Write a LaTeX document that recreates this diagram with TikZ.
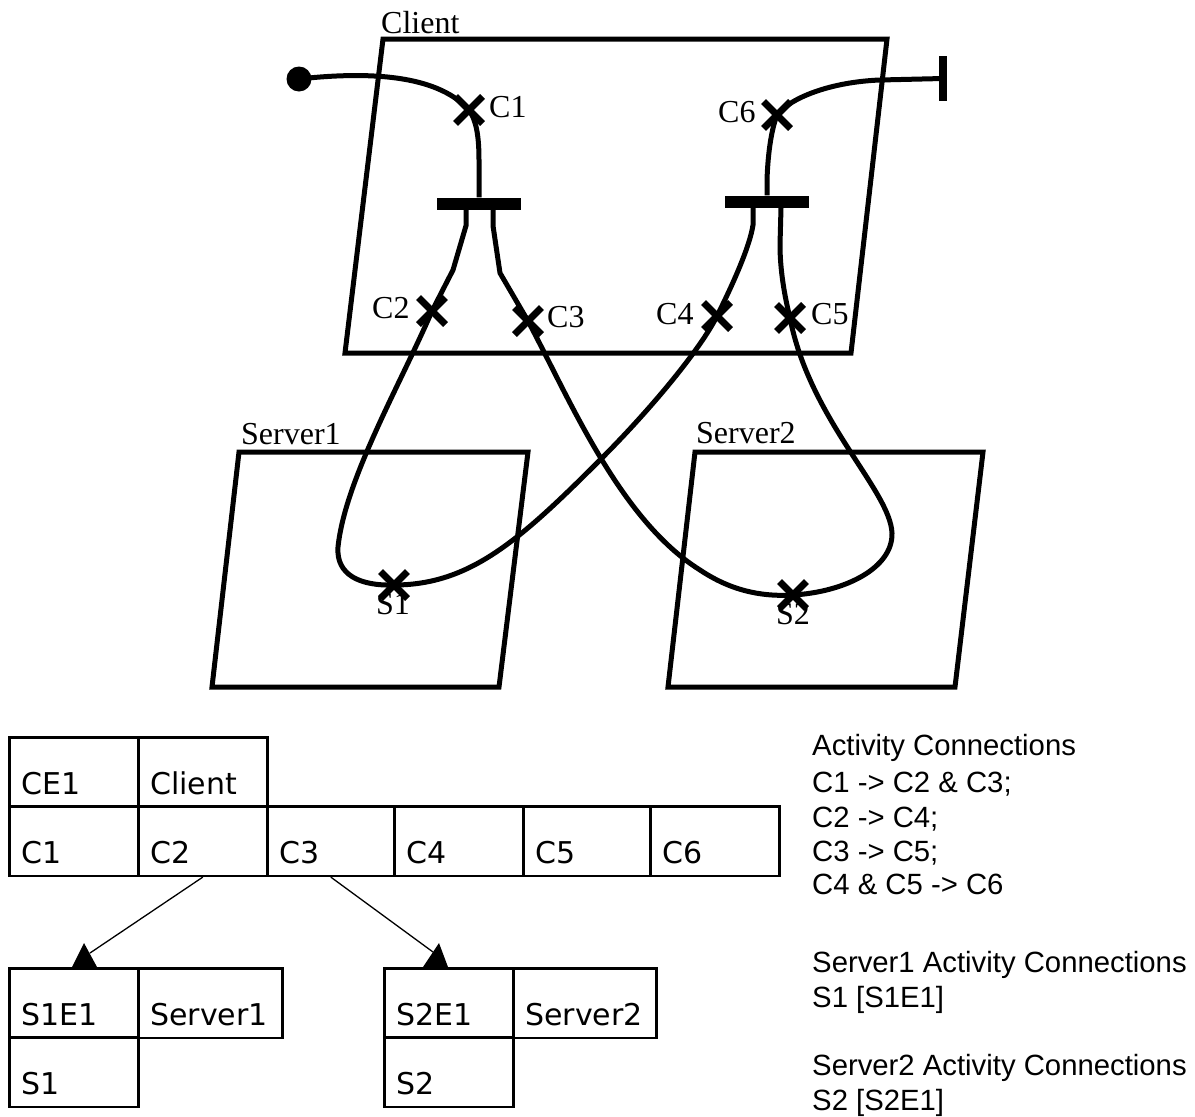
\documentclass[tikz,border=0pt]{standalone}
\usepackage{fontspec}
\setmainfont{Liberation Serif}
\newfontfamily\arialf{Liberation Sans}
\newfontfamily\pixf{DejaVu Sans}
\usetikzlibrary{shapes.misc}
\begin{document}
\begin{tikzpicture}[x=1pt,y=-1pt,
  boxline/.style={line width=5pt, line join=miter},
  wire/.style={line width=5pt},
  xmark/.style={cross out, draw, line width=7pt, minimum size=20pt, inner sep=0pt},
  lbl/.style={font=\fontsize{32}{38}\selectfont, inner sep=0pt, anchor=base west},
  barnode/.style={fill, minimum width=84pt, minimum height=12pt, inner sep=0pt},
  cell/.style={draw, line width=2.6pt, minimum height=69.5pt, inner sep=0pt, anchor=north west},
  tabtxt/.style={font=\pixf\fontsize{30}{35}\selectfont, inner sep=0pt, anchor=base west},
  note/.style={font=\arialf\fontsize{29.3}{35}\selectfont, inner sep=0pt, anchor=base west},
  relline/.style={line width=1.3pt},
]
\useasboundingbox (0,0) rectangle (1195,1117);
\fill[white] (0,0) rectangle (1195,1117);

% ---- component boxes
\draw[boxline] (383,39) -- (887,39) -- (851,353) -- (345,353) -- cycle;
\draw[boxline] (239,452) -- (528,452) -- (499,687) -- (212,687) -- cycle;
\draw[boxline] (695,452) -- (983,452) -- (955,687) -- (668,687) -- cycle;

% ---- box labels
\node[lbl] (lclient) at (381,33) {Client};
\node[lbl] (lserver1) at (241,444) {Server1};
\node[lbl] (lserver2) at (696,443) {Server2};

% ---- responsibility points
\coordinate (c1) at (469,110);
\coordinate (c2) at (432,311);
\coordinate (c3) at (528,321);
\coordinate (c4) at (717,316);
\coordinate (c5) at (790,318);
\coordinate (c6) at (777,115);
\coordinate (s1) at (394,585);
\coordinate (s2) at (793,595);

% ---- start, end, forks/joins
\node[circle, fill, minimum size=25pt, inner sep=0pt] (start) at (299,79) {};
\node[fill, minimum width=8pt, minimum height=45pt, inner sep=0pt] (stop) at (943,78.5) {};
\node[barnode] (bar1) at (479,203.5) {};
\node[barnode] (bar2) at (767,201.5) {};

% ---- paths
\draw[wire] (start.center) .. controls (380,70) and (440,78) .. (c1)
  .. controls (476,120) and (479,135) .. (479,160) -- (bar1.north);
\draw[wire] ([xshift=-13pt]bar1.south) -- ++(0,16) -- (453,270) -- (c2)
  .. controls (400,385) and (345,480) .. (338,547)
  .. controls (336,575) and (360,586) .. (s1)
  .. controls (470,585) and (520,540) .. (600,460)
  .. controls (650,410) and (700,350) .. (c4)
  .. controls (735,280) and (750,245) .. (753,225) -- ([xshift=-14pt]bar2.south);
\draw[wire] ([xshift=14pt]bar1.south) -- ++(0,16) -- (500,273) -- (c3)
  .. controls (570,400) and (620,520) .. (700,570)
  .. controls (730,590) and (760,597) .. (s2)
  .. controls (845,592) and (893,568) .. (892,533)
  .. controls (890,490) and (810,420) .. (c5)
  .. controls (783,290) and (780,265) .. (780,245) -- ([xshift=14pt]bar2.south);
\draw[wire] (bar2.north) -- (767,180) .. controls (768,150) and (772,128) .. (c6)
  .. controls (790,98) and (830,82) .. (880,80) -- (stop.center);

% ---- cross marks
\foreach \p in {c1,c2,c3,c4,c5,c6,s1,s2}
  \node[xmark] (\p x) at (\p) {};

% ---- point labels
\node[lbl] (lc1) at (489,117) {C1};
\node[lbl] (lc6) at (718,122) {C6};
\node[lbl] (lc2) at (372,318) {C2};
\node[lbl] (lc3) at (547,327) {C3};
\node[lbl] (lc4) at (656,324) {C4};
\node[lbl] (lc5) at (811,324) {C5};
\node[lbl] (ls1) at (376,614) {S1};
\node[lbl] (ls2) at (776,624) {S2};

% ---- table: client
\node[cell, minimum width=129pt] (tce1) at (8,736) {};
\node[cell, minimum width=129pt] (tclient) at (137,736) {};
\node[cell, minimum width=129pt] (tc1) at (8,805) {};
\node[cell, minimum width=129pt] (tc2) at (137,805) {};
\node[cell, minimum width=127pt] (tc3) at (266,805) {};
\node[cell, minimum width=129pt] (tc4) at (393,805) {};
\node[cell, minimum width=127pt] (tc5) at (522,805) {};
\node[cell, minimum width=129pt] (tc6) at (649,805) {};
% ---- table: servers
\node[cell, minimum width=129pt] (ts1e1) at (8,967) {};
\node[cell, minimum width=144pt] (tserver1) at (137,967) {};
\node[cell, minimum width=129pt] (ts1) at (8,1036) {};
\node[cell, minimum width=129pt] (ts2e1) at (383,967) {};
\node[cell, minimum width=143pt] (tserver2) at (512,967) {};
\node[cell, minimum width=129pt] (ts2) at (383,1036) {};

\foreach \c/\t in {tce1/CE1, tclient/Client, tc1/C1, tc2/C2, tc3/C3, tc4/C4, tc5/C5, tc6/C6,
                   ts1e1/S1E1, tserver1/Server1, ts1/S1, ts2e1/S2E1, tserver2/Server2, ts2/S2}
  \node[tabtxt] at ([shift={(13,-14)}]\c.south west) {\t};

% ---- table connectors
\coordinate (a1) at (90,953);
\coordinate (a2) at (433,952);
\draw[relline] (tc2.south) -- (a1);
\draw[relline] (tc3.south) -- (a2);
\fill (72,967) -- (84,943) -- (97,967) -- cycle;
\fill (423,967) -- (439,943) -- (448,967) -- cycle;

% ---- notes
\node[note] at (812,755) {Activity Connections};
\node[note] at (812,792) {C1 -> C2 \& C3;};
\node[note] at (812,827) {C2 -> C4;};
\node[note] at (812,861) {C3 -> C5;};
\node[note] at (812,894) {C4 \& C5 -> C6};
\node[note] at (812,972) {Server1 Activity Connections};
\node[note] at (812,1007) {S1 [S1E1]};
\node[note] at (812,1075) {Server2 Activity Connections};
\node[note] at (812,1110) {S2 [S2E1]};
\end{tikzpicture}
\end{document}
